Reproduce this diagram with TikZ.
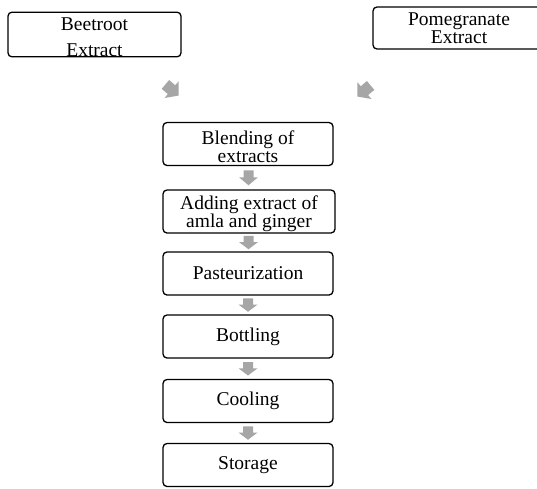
\documentclass[tikz,border=0pt]{standalone}
\usepackage{fontspec}
\setmainfont{Liberation Serif}
\usetikzlibrary{calc}
\definecolor{arrowgray}{HTML}{A6A6A6}
\newcommand{\tstrut}{\rule{0pt}{18.5pt}}
\tikzset{
  box/.style={draw, rounded corners=4pt, line width=1.3pt, minimum width=170pt, minimum height=43pt,
    align=center, inner sep=0pt, font=\fontsize{19.5}{18}\selectfont},
  blockarrow/.pic={\fill[arrowgray] (-5,-7.5) -- (5,-7.5) -- (5,-0.5) -- (9.5,-0.5) -- (0,7.5) -- (-9.5,-0.5) -- (-5,-0.5) -- cycle;}
}
\begin{document}
\begin{tikzpicture}[x=1pt,y=-1pt]
\useasboundingbox[fill=white] (0,0) rectangle (537,488);
\node[box, minimum width=173pt, font=\fontsize{19.5}{26}\selectfont] (beet) at (94.5,34.5) {\tstrut Beetroot\\Extract};
\node[box, minimum width=172pt, minimum height=42pt] (pom) at (459,28) {Pomegranate\\Extract};
\node[box] (blend) at (248,144) {\tstrut Blending of\\extracts};
\node[box, minimum width=172pt] (add) at (249,211.5) {\tstrut Adding extract of\\amla and ginger};
\node[box] (past) at (248,273.5) {Pasteurization};
\node[box] (bott) at (248,336.5) {Bottling};
\node[box] (cool) at (248,401) {Cooling};
\node[box] (stor) at (248,465) {Storage};
\coordinate (la) at (172,90);
\coordinate (ra) at (364,91);
\pic[rotate=50, scale=1.15] at (la) {blockarrow};
\pic[rotate=-50, scale=1.15] at (ra) {blockarrow};
\pic at ($(blend.south)!0.5!(add.north)$) {blockarrow};
\pic[yscale=0.9] at ($(add.south)!0.5!(past.north)$) {blockarrow};
\pic[yscale=0.9] at ($(past.south)!0.5!(bott.north)$) {blockarrow};
\pic[yscale=0.9] at ($(bott.south)!0.5!(cool.north)$) {blockarrow};
\pic[yscale=0.9] at ($(cool.south)!0.5!(stor.north)$) {blockarrow};
\end{tikzpicture}
\end{document}
